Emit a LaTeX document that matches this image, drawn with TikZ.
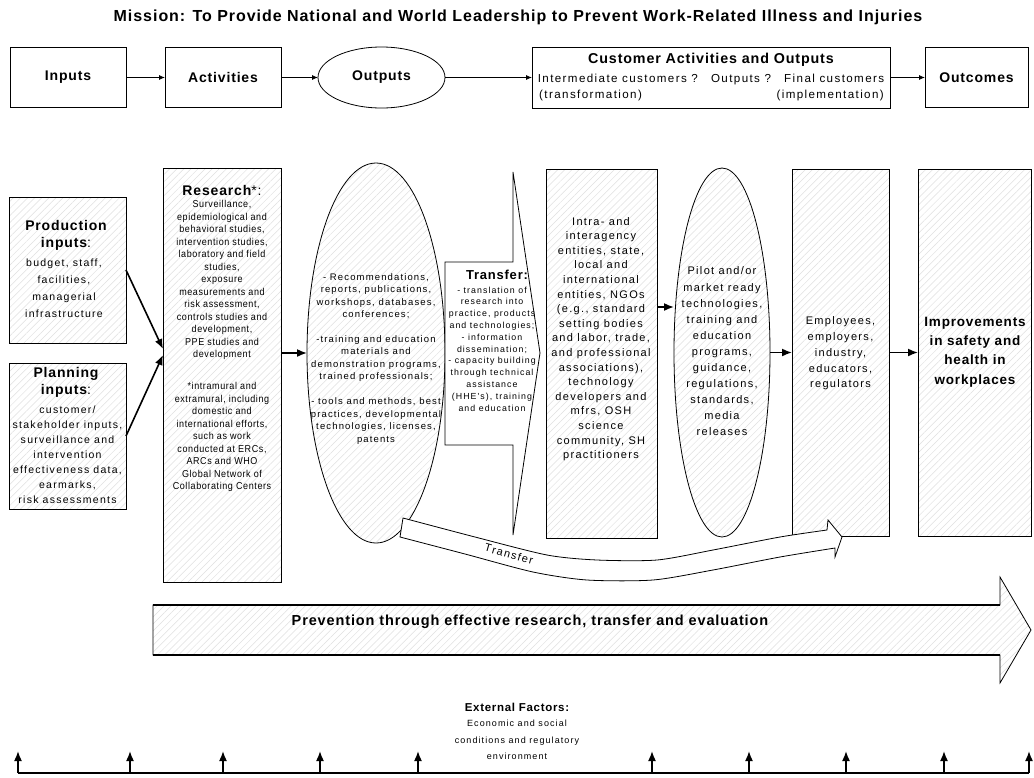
\documentclass[tikz,border=0pt]{standalone}
\usepackage{fontspec}
\setmainfont{Liberation Sans}
\newfontfamily\rf[LetterSpace=12]{Liberation Sans}
\newfontfamily\rn[LetterSpace=6,FakeStretch=0.9]{Liberation Sans}
\newfontfamily\hb[LetterSpace=6]{Liberation Sans}
\usetikzlibrary{shapes.geometric,arrows.meta,patterns.meta,calc}
\newcommand{\fsz}[2]{\fontsize{#1}{#2}\selectfont}
\begin{document}
\begin{tikzpicture}[x=1pt,y=-1pt,
  box/.style={draw, line width=0.8pt, inner sep=0pt, outer sep=0pt},
  hatch/.style={pattern={Lines[angle=45,distance=5pt,line width=0.5pt]}, pattern color=black!12},
  tarr/.style={-{Latex[length=6pt,width=5pt]}, line width=0.8pt},
  marr/.style={-{Latex[length=10pt,width=8pt]}, line width=1.6pt},
  txt/.style={inner sep=0pt, align=center},
  headf/.style={font=\hb\bfseries\fsz{14}{17}}]
\fill[white] (0,0) rectangle (1034,777);
\useasboundingbox (0,0) rectangle (1034,777);

% title
\node[txt, font=\hb\bfseries\fsz{16}{18}] (title) at (518,17) {Mission: To Provide National and World Leadership to Prevent Work-Related Illness and Injuries};

% top row
\node[box, minimum width=116pt, minimum height=60pt, headf] (inputs) at (68,77.5) {Inputs};
\node[box, minimum width=116pt, minimum height=60pt, headf] (activities) at (223,77.5) {Activities};
\node[box, ellipse, minimum width=127pt, minimum height=61pt, headf] (outputs) at (381.5,77.5) {Outputs};
\node[box, minimum width=358pt, minimum height=61pt] (customer) at (711,77.5) {};
\node[box, minimum width=103pt, minimum height=60pt, headf] (outcomes) at (976.5,77.5) {Outcomes};
\node[txt, font=\hb\bfseries\fsz{14.3}{16}] (custh) at (711,60) {Customer Activities and Outputs};
\node[txt, font=\rf\fsz{11.6}{13}] (custl) at (711,79) {Intermediate customers ?\hspace{7pt} Outputs ?\hspace{7pt} Final customers};
\node[txt, anchor=west, font=\rf\fsz{11.6}{13}] (custt) at (539,95) {(transformation)};
\node[txt, anchor=east, font=\rf\fsz{11.6}{13}] (custi) at (884,95) {(implementation)};
\draw[tarr] (inputs.east) -- (activities.west);
\draw[tarr] (activities.east) -- (outputs.west);
\draw[tarr] (outputs.east) -- (customer.west);
\draw[tarr] (customer.east) -- (outcomes.west);

% left inputs
\node[box, hatch, minimum width=117pt, minimum height=146pt] (prod) at (67.5,270) {};
\node[txt, headf] (prodh) at (66,235) {Production\\inputs{\mdseries:}};
\node[txt, font=\rf\fsz{10.5}{17}] (prodb) at (64,288) {budget, staff,\\facilities,\\managerial\\infrastructure};
\node[box, hatch, minimum width=117pt, minimum height=146pt] (plan) at (67.5,436) {};
\node[txt, headf] (planh) at (66,382) {Planning\\inputs{\mdseries:}};
\node[txt, font=\rf\fsz{10.5}{15}] (planb) at (67.5,455) {customer/\\stakeholder inputs,\\surveillance and\\intervention\\effectiveness data,\\earmarks,\\risk assessments};

% research
\node[box, hatch, minimum width=118pt, minimum height=414pt] (research) at (222,375) {};
\node[txt, headf] (resh) at (222,190) {Research{\mdseries *:}};
\node[txt, font=\rn\fsz{10}{12.5}] (resb1) at (222,280) {Surveillance,\\epidemiological and\\behavioral studies,\\intervention studies,\\laboratory and field\\studies,\\exposure\\measurements and\\risk assessment,\\controls studies and\\development,\\PPE studies and\\development};
\node[txt, font=\rn\fsz{10}{12.5}] (resb2) at (222,437) {*intramural and\\extramural, including\\domestic and\\international efforts,\\such as work\\conducted at ERCs,\\ARCs and WHO\\Global Network of\\Collaborating Centers};

% outputs ellipse
\node[box, hatch, ellipse, minimum width=138pt, minimum height=380pt] (outell) at (376,353) {};
\node[txt, font=\rf\fsz{9.5}{12.5}] (oe1) at (376,296) {- Recommendations,\\reports, publications,\\workshops, databases,\\conferences;};
\node[txt, font=\rf\fsz{9.5}{12.5}] (oe2) at (376,358.5) {-training and education\\materials and\\demonstration programs,\\trained professionals;};
\node[txt, font=\rf\fsz{9.5}{12.5}] (oe3) at (376,421) {- tools and methods, best\\practices, developmental\\technologies, licenses,\\patents};

% transfer block arrow
\draw[line width=0.8pt, fill=white] (445,262) -- (513,262) -- (513,172) -- (540,353) -- (513,535) -- (513,445) -- (445,445) -- cycle;
\node[txt, font=\hb\bfseries\fsz{13}{15}] (trh) at (497,275) {Transfer:};
\node[txt, font=\rf\fsz{8.8}{11.8}] (trb) at (492,349) {- translation of\\research into\\practice, products\\and technologies;\\- information\\dissemination;\\- capacity building\\through technical\\assistance\\(HHE's), training\\and education};

% intra box
\node[box, hatch, minimum width=111pt, minimum height=369pt] (intra) at (601.5,353.5) {};
\node[txt, font=\rf\fsz{11}{14.6}] (intrat) at (601,339) {Intra- and\\interagency\\entities, state,\\local and\\international\\entities, NGOs\\(e.g., standard\\setting bodies\\and labor, trade,\\and professional\\associations),\\technology\\developers and\\mfrs, OSH\\science\\community, SH\\practitioners};

% pilot ellipse
\node[box, hatch, ellipse, minimum width=96pt, minimum height=369pt] (pilot) at (722,352.5) {};
\node[txt, font=\rf\fsz{11}{16.1}] (pilott) at (722,351.5) {Pilot and/or\\market ready\\technologies,\\training and\\education\\programs,\\guidance,\\regulations,\\standards,\\media\\releases};

% employees
\node[box, hatch, minimum width=97pt, minimum height=367pt] (employees) at (840.5,352.5) {};
\node[txt, font=\rf\fsz{11}{15.75}] (empt) at (840.5,353.5) {Employees,\\employers,\\industry,\\educators,\\regulators};

% improvements
\node[box, hatch, minimum width=113pt, minimum height=367pt] (improve) at (974.5,352.5) {};
\node[txt, font=\hb\bfseries\fsz{13.5}{19.3}] (impt) at (975,352) {Improvements\\in safety and\\health in\\workplaces};

% main connectors
\draw[marr] (prod.east) -- ([yshift=26pt]research.west);
\draw[marr] (plan.east) -- ([yshift=20pt]research.west);
\draw[marr] ([yshift=22pt]research.east) -- (outell.west);
\draw[marr] ([yshift=46.5pt]intra.east) -- ([yshift=46.5pt]intra.east -| pilot.west);
\draw[marr] (pilot.east) -- (employees.west);
\draw[marr] (employees.east) -- (improve.west);

% curved transfer arrow
\draw[line width=0.8pt, fill=white] plot[smooth, tension=0.45] coordinates {(403,518) (475,537) (547,555) (597,560) (657,560) (713,550) (780,537) (827,530)} -- (828,520) -- (842,537) -- (835,557) -- (835,548) -- plot[smooth, tension=0.45] coordinates {(835,548) (780,557) (713,570) (653,580) (587,580) (533,572) (465,554) (400,537)} -- cycle;
\node[font=\rf\fsz{11}{13}, rotate=-16, inner sep=0pt] (trlbl) at (509,554) {Transfer};

% prevention arrow
\draw[line width=0.8pt, hatch] (153,605) -- (1000,605) -- (1000,577) -- (1031,630) -- (1000,683) -- (1000,655) -- (153,655) -- cycle;
\draw[line width=1.6pt] (153,605) -- (1000,605);
\draw[line width=1.6pt] (153,655) -- (1000,655);
\node[txt, font=\hb\bfseries\fsz{14.5}{16}] (prevt) at (530,622) {Prevention through effective research, transfer and evaluation};

% external factors
\node[txt, font=\hb\bfseries\fsz{11.5}{13}] (exth) at (517,707) {External Factors:};
\node[txt, font=\rf\fsz{9}{16.5}] (extb) at (517,740) {Economic and social\\conditions and regulatory\\environment};
\coordinate (bl) at (18,773);
\coordinate (br) at (1029,773);
\draw[line width=1.6pt] (bl) -- (br);
\foreach \x [count=\i] in {18,130,223,320,418,652,749,846,944,1029} {
  \coordinate (ea\i) at (\x,773);
  \coordinate (eb\i) at (\x,751);
  \draw[marr] (ea\i) -- (eb\i);
}
\end{tikzpicture}
\end{document}
